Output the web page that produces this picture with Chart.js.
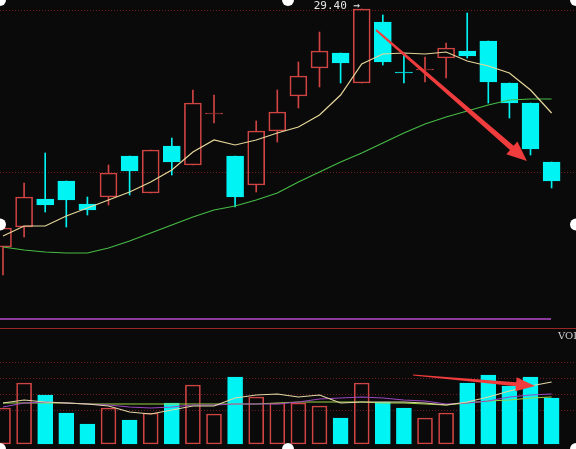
<!DOCTYPE html>
<html>
<head>
<meta charset="utf-8">
<script src="https://cdn.jsdelivr.net/npm/chart.js@4.4.0/dist/chart.umd.min.js"></script>
<style>
html,body{margin:0;padding:0;background:#0a0a0a;overflow:hidden;}
#wrap{width:576px;height:449px;position:relative;}
</style>
</head>
<body>
<div id="wrap"><canvas id="c" width="576" height="449"></canvas></div>
<script>
// ---- data ----
const candleIndex = [0,1,2,3,4,5,6,7,8,9,10,11,12,13,14,15,16,17,18,19,20,21,22,23,24,25,26];
const candleOpen  = [24.64,25.04,25.60,25.96,25.50,25.64,26.46,25.72,26.66,26.28,27.30,26.46,25.88,26.96,27.66,28.22,28.52,27.92,29.14,28.14,28.18,28.42,28.56,28.76,27.92,27.52,26.34];
const candleHigh  = [25.02,25.92,26.52,25.96,25.64,26.28,26.46,26.58,26.82,27.78,27.68,26.46,27.16,27.78,28.34,28.94,28.52,29.40,29.28,28.52,28.44,28.72,29.32,28.76,27.92,27.52,26.34];
const candleLow   = [24.08,24.84,25.34,25.04,25.28,25.48,25.68,25.72,26.08,26.28,27.12,25.44,25.74,26.74,27.42,27.84,27.92,27.92,28.28,27.92,27.94,28.02,28.42,27.52,27.22,26.48,25.82];
const candleClose = [25.02,25.64,25.48,25.58,25.38,26.12,26.16,26.58,26.34,27.52,27.32,25.64,26.96,27.34,28.06,28.56,28.32,29.40,28.34,28.12,28.20,28.62,28.46,27.94,27.52,26.60,25.96];
const priceMA5    = [24.86,25.06,25.06,25.26,25.42,25.58,25.74,25.94,26.18,26.54,26.78,26.68,26.78,26.92,27.04,27.28,27.68,28.30,28.50,28.52,28.50,28.54,28.36,28.26,28.12,27.78,27.32];
const priceMA20   = [24.64,24.58,24.54,24.52,24.52,24.62,24.76,24.92,25.08,25.24,25.38,25.46,25.58,25.72,25.94,26.14,26.34,26.52,26.72,26.92,27.10,27.24,27.36,27.48,27.58,27.60,27.60];
const volume      = [36,61,49,31,20,36,24,31,41,59,30,67,47,41,41,38,26,61,42,36,26,31,61,69,58,67,46];
const volMA5      = [41,44,42,41,40,38,32,30,34,38,38,46,49,50,47,49,41,42,42,42,41,39,42,47,53,58,62];
const volMA10     = [37,41,42,41,40,39,37,36,37,39,39,40,40,40,42,45,46,47,46,44,43,40,41,43,47,49,50];
const volMA20     = [41,41,41,41,40,40,40,40,40,40,40,40,40,41,42,42,42,42,41,41,40,39,41,43,44,46,47];
const priceLevels = [29.38, 26.14];
const volLevels   = [82, 66, 50, 34];
const maxLabel    = "29.40 →";
const volLabel    = "VOL";

// ---- styles ----
const UP = '#d04444', DOWN = '#00f4f4', BG = '#0a0a0a';
const isUp = candleOpen.map((o,i)=>candleClose[i] >= o);
const colOf = i => isUp[i] ? UP : DOWN;

const bodies = candleIndex.map(i=>({x:i, y:[candleOpen[i], candleClose[i]]}));
const upperWicks = candleIndex.map(i=>({x:i, y:[Math.max(candleOpen[i],candleClose[i]), candleHigh[i]]}));
const lowerWicks = candleIndex.map(i=>({x:i, y:[candleLow[i], Math.min(candleOpen[i],candleClose[i])]}));
const pts = arr => arr.map((v,i)=>({x:candleIndex[i], y:v}));

const decor = {
  id:'decor',
  beforeDraw(chart){
    const c = chart.ctx;
    c.save(); c.fillStyle = BG; c.fillRect(0,0,chart.width,chart.height); c.restore();
  },
  beforeDatasetsDraw(chart){
    const c = chart.ctx, y = chart.scales.y, yv = chart.scales.yv, W = chart.width;
    c.save();
    c.strokeStyle = '#6e1e1e'; c.lineWidth = 1; c.setLineDash([1,2]);
    priceLevels.forEach(v=>{ const p = Math.round(y.getPixelForValue(v))+0.5; c.beginPath(); c.moveTo(0,p); c.lineTo(W,p); c.stroke(); });
    volLevels.forEach(v=>{ const p = Math.round(yv.getPixelForValue(v))+0.5; c.beginPath(); c.moveTo(0,p); c.lineTo(W,p); c.stroke(); });
    c.setLineDash([]);
    // pane separators
    c.strokeStyle = '#8c3c9c'; c.lineWidth = 2;
    c.beginPath(); c.moveTo(0,319); c.lineTo(551,319); c.stroke();
    c.strokeStyle = '#9a2626'; c.lineWidth = 1;
    c.beginPath(); c.moveTo(0,328.5); c.lineTo(W,328.5); c.stroke();
    c.restore();
  },
  afterDraw(chart){
    const c = chart.ctx, x = chart.scales.x, y = chart.scales.y, yv = chart.scales.yv, W = chart.width, H = chart.height;
    function arrow(x0,y0,x1,y1,w0,w1,hl,hw){
      const dx=x1-x0, dy=y1-y0, L=Math.hypot(dx,dy), ux=dx/L, uy=dy/L, nx=-uy, ny=ux;
      const bx=x1-ux*hl, by=y1-uy*hl;
      c.beginPath();
      c.moveTo(x0+nx*w0/2, y0+ny*w0/2);
      c.lineTo(bx+nx*w1/2, by+ny*w1/2);
      c.lineTo(bx+nx*hw/2, by+ny*hw/2);
      c.lineTo(x1,y1);
      c.lineTo(bx-nx*hw/2, by-ny*hw/2);
      c.lineTo(bx-nx*w1/2, by-ny*w1/2);
      c.lineTo(x0-nx*w0/2, y0-ny*w0/2);
      c.closePath(); c.fill();
    }
    c.save();
    c.fillStyle = '#f03c3c';
    arrow(x.getPixelForValue(17.68), y.getPixelForValue(28.98), x.getPixelForValue(24.83), y.getPixelForValue(26.36), 2, 5.5, 20, 17);
    arrow(x.getPixelForValue(19.43), yv.getPixelForValue(69), x.getPixelForValue(25.21), yv.getPixelForValue(58), 1.2, 4, 19, 14);
    // labels
    let mi = 0; candleHigh.forEach((v,i)=>{ if(v>candleHigh[mi]) mi=i; });
    c.fillStyle = '#e6e6e6'; c.font = '11px "DejaVu Sans Mono"'; c.textBaseline = 'middle'; c.textAlign='left';
    c.fillText(maxLabel, x.getPixelForValue(mi) - 48, 6);
    c.fillStyle = '#cfcfcf'; c.font = '10px "DejaVu Serif"';
    c.fillText(volLabel, 558, 336);
    // selection handles
    c.fillStyle = '#ffffff';
    [[0,0],[W/2,0],[W,0],[0,H/2],[W,H/2],[0,H],[W/2,H],[W,H]].forEach(([hx,hy])=>{
      c.beginPath(); c.arc(hx,hy,6,0,Math.PI*2); c.fill();
    });
    c.restore();
  }
};

new Chart(document.getElementById('c'), {
  type:'bar',
  data:{
    datasets:[
      {type:'line', data:pts(priceMA5), yAxisID:'y', borderColor:'#e6d69a', borderWidth:1.2, pointRadius:0, tension:0, order:0},
      {type:'line', data:pts(priceMA20), yAxisID:'y', borderColor:'#46bb46', borderWidth:1.2, pointRadius:0, tension:0, order:0},
      {type:'line', data:pts(volMA5), yAxisID:'yv', borderColor:'#e2d6a6', borderWidth:1.2, pointRadius:0, tension:0, order:0},
      {type:'line', data:pts(volMA10), yAxisID:'yv', borderColor:'#9a48c0', borderWidth:1.2, pointRadius:0, tension:0, order:0},
      {type:'line', data:pts(volMA20), yAxisID:'yv', borderColor:'#9ad040', borderWidth:1.2, pointRadius:0, tension:0, order:0},
      {data:bodies, yAxisID:'y', grouped:false, barThickness:17, borderSkipped:false, borderWidth:1,
        backgroundColor:candleIndex.map(i=>isUp[i]?'rgba(0,0,0,0)':DOWN), borderColor:candleIndex.map(colOf), order:1},
      {data:upperWicks, yAxisID:'y', grouped:false, barThickness:1, borderWidth:0, backgroundColor:candleIndex.map(colOf), order:2},
      {data:lowerWicks, yAxisID:'y', grouped:false, barThickness:1, borderWidth:0, backgroundColor:candleIndex.map(colOf), order:2},
      {data:pts(volume), yAxisID:'yv', grouped:false, barThickness:15, borderSkipped:false, borderWidth:1,
        backgroundColor:candleIndex.map(i=>isUp[i]?'rgba(0,0,0,0)':DOWN), borderColor:candleIndex.map(colOf), order:1}
    ]
  },
  options:{
    responsive:false, animation:false,
    layout:{padding:0},
    plugins:{legend:{display:false}, tooltip:{enabled:false}},
    scales:{
      x:{type:'linear', min:-0.142, max:27.156, offset:false, grid:{offset:false}, display:false},
      y:{type:'linear', min:20.60, max:29.58, display:false},
      yv:{type:'linear', min:-5, max:444, display:false}
    }
  },
  plugins:[decor]
});
</script>
</body>
</html>
